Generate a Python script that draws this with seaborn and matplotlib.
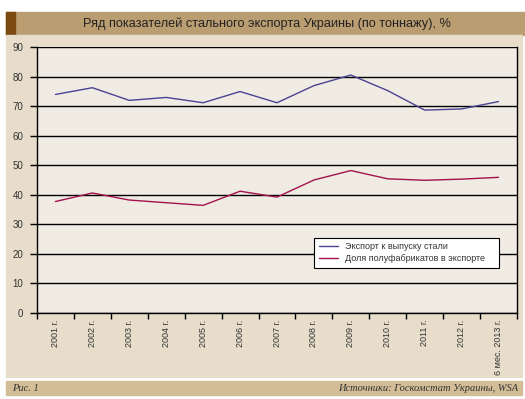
import numpy as np
import pandas as pd
import seaborn as sns
import matplotlib.pyplot as plt
from matplotlib.patches import Rectangle

years = ["2001 г.", "2002 г.", "2003 г.", "2004 г.", "2005 г.", "2006 г.", "2007 г.",
         "2008 г.", "2009 г.", "2010 г.", "2011 г.", "2012 г.", "6 мес. 2013 г."]
export_share = [74, 76.3, 72, 73, 71.2, 75, 71.2, 77, 80.6, 75.3, 68.7, 69.1, 71.6]
semis_share = [37.7, 40.6, 38.2, 37.3, 36.4, 41.2, 39.2, 45, 48.2, 45.4, 44.9, 45.3, 45.9]
series_names = ["Экспорт к выпуску стали", "Доля полуфабрикатов в экспорте"]

title = "Ряд показателей стального экспорта Украины (по тоннажу), %"
fig_label = "Рис. 1"
source = "Источники: Госкомстат Украины, WSA"

sns.set_theme(style="white")
plt.rcParams["font.family"] = ["Liberation Sans", "DejaVu Sans"]

df = pd.DataFrame({
    "pos": list(range(len(years))) * 2,
    "value": export_share + semis_share,
    "series": [series_names[0]] * len(years) + [series_names[1]] * len(years),
})

W, H = 525, 399
fig = plt.figure(figsize=(W / 100, H / 100), dpi=100)
fig.patch.set_facecolor("white")

def box(x0, y0, x1, y1, color):
    # pixel coords, y from top
    fig.patches.append(Rectangle((x0 / W, 1 - y1 / H), (x1 - x0) / W, (y1 - y0) / H,
                                 transform=fig.transFigure, color=color, zorder=-10))

box(6, 12, 525, 35, "#bb9d72")
box(6, 12, 15, 35, "#7b4a12")
box(6, 35, 522, 377, "#e7ddca")
box(6, 381, 522, 395, "#d2bd96")

fig.text(267 / W, 1 - 24 / H, title, ha="center", va="center", fontsize=9.2, color="#222222")
fig.text(12 / W, 1 - 388.5 / H, fig_label, ha="left", va="center", fontsize=7.5,
         style="italic", family=["Liberation Serif", "DejaVu Serif"], color="#333333")
fig.text(518 / W, 1 - 388.5 / H, source, ha="right", va="center", fontsize=7.5,
         style="italic", family=["Liberation Serif", "DejaVu Serif"], color="#333333")

ax = fig.add_axes([37 / W, 1 - 312.7 / H, 480 / W, (312.7 - 47.3) / H])
ax.set_facecolor("#f0ebe3")

sns.lineplot(data=df, x="pos", y="value", hue="series",
             palette=["#4a4393", "#a3124c"], linewidth=1.0, ax=ax)

ax.set_xlim(-0.5, len(years) - 0.5)
ax.set_ylim(0, 90)
ax.set_yticks(np.arange(0, 91, 10))
ax.yaxis.grid(True, color="black", linewidth=1.0)
ax.set_axisbelow(True)

ax.set_xticks(range(len(years)))
ax.set_xticklabels(years, rotation=90, fontsize=6.5, color="#333333")
ax.set_xticks(np.arange(-0.5, len(years), 1), minor=True)
ax.tick_params(axis="x", which="major", length=0, pad=5)
ax.tick_params(axis="x", which="minor", length=4, width=1, color="black", direction="out", bottom=True)
ax.tick_params(axis="y", length=5, width=1, color="black", direction="out", left=True,
               labelsize=7, labelcolor="#333333", pad=5)
ax.set_xlabel("")
ax.set_ylabel("")

for s in ["left", "bottom", "right"]:
    ax.spines[s].set_visible(True)
    ax.spines[s].set_color("black")
    ax.spines[s].set_linewidth(1.0)
ax.spines["top"].set_visible(False)

leg = ax.legend(loc="lower left", bbox_to_anchor=((314 - 37) / 480, (312.7 - 268) / 265.4,
                                                  (499 - 314) / 480, (268 - 234) / 265.4),
                mode="expand", fontsize=6.5, frameon=True, fancybox=False,
                handlelength=2.2, handletextpad=0.7, borderaxespad=0, borderpad=0.5,
                labelspacing=0.35, labelcolor="#333333")
leg.get_frame().set_edgecolor("black")
leg.get_frame().set_linewidth(0.8)
leg.get_frame().set_facecolor("white")
leg.get_frame().set_alpha(1)

fig.savefig("out.png", dpi=100)
